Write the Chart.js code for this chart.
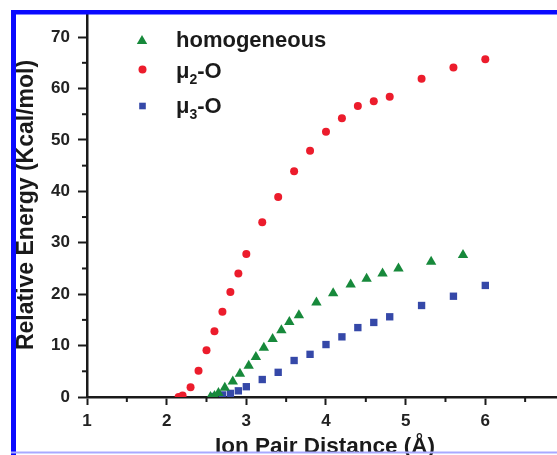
<!DOCTYPE html>
<html>
<head>
<meta charset="utf-8">
<script src="https://cdn.jsdelivr.net/npm/chart.js"></script>
<style>
  html, body { margin: 0; padding: 0; background: #fff; }
  canvas { display: block; }
</style>
</head>
<body>
<canvas id="energyChart" width="557" height="455"></canvas>
<script>
// data
const homoX = [2.55, 2.6, 2.65, 2.73, 2.83, 2.92, 3.03, 3.12, 3.22, 3.33, 3.44, 3.54, 3.66, 3.88, 4.09, 4.31, 4.51, 4.71, 4.91, 5.32, 5.72];
const homoY = [0, 0.2, 0.8, 1.8, 3.0, 4.5, 6.1, 7.8, 9.6, 11.3, 13.0, 14.6, 15.9, 18.4, 20.2, 21.9, 23.0, 24.0, 25.0, 26.3, 27.6];

const mu2X = [2.15, 2.2, 2.3, 2.4, 2.5, 2.6, 2.7, 2.8, 2.9, 3.0, 3.2, 3.4, 3.6, 3.8, 4.0, 4.2, 4.4, 4.6, 4.8, 5.2, 5.6, 6.0];
const mu2Y = [0, 0.3, 1.9, 5.1, 9.1, 12.8, 16.6, 20.4, 24.0, 27.8, 34.0, 38.9, 43.9, 47.9, 51.6, 54.2, 56.6, 57.5, 58.4, 61.9, 64.1, 65.7];

const mu3X = [2.6, 2.7, 2.8, 2.9, 3.0, 3.2, 3.4, 3.6, 3.8, 4.0, 4.2, 4.4, 4.6, 4.8, 5.2, 5.6, 6.0];
const mu3Y = [0.1, 0.4, 0.7, 1.2, 2.0, 3.4, 4.8, 7.1, 8.3, 10.2, 11.7, 13.5, 14.5, 15.6, 17.8, 19.6, 21.7];

const xTicks = [1, 2, 3, 4, 5, 6];
const yTicks = [0, 10, 20, 30, 40, 50, 60, 70];
const xMinor = [1.5, 2.5, 3.5, 4.5, 5.5, 6.5];
const yMinor = [5, 15, 25, 35, 45, 55, 65];

const GREEN = "#17893b";
const RED = "#ec1c2c";
const BLUE = "#3548a8";
const INK = "#1a1a1a";
const FONT = "'Liberation Sans', Arial, sans-serif";

function toPoints(xs, ys) {
  return xs.map((x, i) => ({ x: x, y: ys[i] }));
}

function keepTicks(list) {
  return function (scale) {
    scale.ticks = list.map(v => ({ value: v }));
  };
}

// shapes for the legend
function marker(ctx, style, x, y, r, color) {
  ctx.save();
  ctx.fillStyle = color;
  ctx.beginPath();
  if (style === "triangle") {
    ctx.moveTo(x, y - r);
    ctx.lineTo(x + r * 0.866, y + r / 2);
    ctx.lineTo(x - r * 0.866, y + r / 2);
    ctx.closePath();
  } else if (style === "circle") {
    ctx.arc(x, y, r, 0, Math.PI * 2);
  } else {
    ctx.rect(x - r, y - r, r * 2, r * 2);
  }
  ctx.fill();
  ctx.restore();
}

function subLabel(ctx, main, sub, rest, x, y) {
  ctx.font = "bold 22px " + FONT;
  ctx.fillText(main, x, y);
  x += ctx.measureText(main).width;
  ctx.font = "bold 14px " + FONT;
  ctx.fillText(sub, x, y + 6);
  x += ctx.measureText(sub).width;
  ctx.font = "bold 22px " + FONT;
  ctx.fillText(rest, x, y);
}

const decorations = {
  id: "decorations",
  afterDraw(chart) {
    const ctx = chart.ctx;
    const xs = chart.scales.x;
    const ys = chart.scales.y;
    const area = chart.chartArea;

    // minor ticks
    ctx.save();
    ctx.strokeStyle = INK;
    ctx.lineWidth = 2;
    xMinor.forEach(v => {
      const px = xs.getPixelForValue(v);
      ctx.beginPath();
      ctx.moveTo(px, area.bottom);
      ctx.lineTo(px, area.bottom + 5);
      ctx.stroke();
    });
    yMinor.forEach(v => {
      const py = ys.getPixelForValue(v);
      ctx.beginPath();
      ctx.moveTo(area.left, py);
      ctx.lineTo(area.left - 5, py);
      ctx.stroke();
    });
    ctx.restore();

    // axis titles
    ctx.save();
    ctx.fillStyle = INK;
    ctx.font = "bold 22.5px " + FONT;
    ctx.textAlign = "center";
    ctx.textBaseline = "alphabetic";
    ctx.fillText("Ion Pair Distance (Å)", 325, 453);
    ctx.translate(33, 205);
    ctx.rotate(-Math.PI / 2);
    ctx.font = "bold 23px " + FONT;
    ctx.fillText("Relative Energy (Kcal/mol)", 0, 0);
    ctx.restore();

    // legend
    ctx.save();
    marker(ctx, "triangle", 142, 41, 6, GREEN);
    marker(ctx, "circle", 142.5, 69.5, 4, RED);
    marker(ctx, "rect", 142.5, 106, 3.3, BLUE);
    ctx.fillStyle = INK;
    ctx.textAlign = "left";
    ctx.textBaseline = "alphabetic";
    ctx.font = "bold 22px " + FONT;
    ctx.fillText("homogeneous", 176, 46.5);
    subLabel(ctx, "μ", "2", "-O", 176, 77.5);
    subLabel(ctx, "μ", "3", "-O", 176, 113);
    ctx.restore();

    // blue frame
    ctx.save();
    ctx.fillStyle = "#0a0aff";
    ctx.fillRect(11, 10, 546, 4.5);
    ctx.fillRect(11, 10, 5, 445);
    ctx.fillStyle = "#a9a9ff";
    ctx.fillRect(11, 451.5, 546, 2);
    ctx.restore();
  }
};

const ctx = document.getElementById("energyChart").getContext("2d");
new Chart(ctx, {
  type: "scatter",
  data: {
    datasets: [
      {
        label: "homogeneous",
        data: toPoints(homoX, homoY),
        pointStyle: "triangle",
        pointRadius: 6,
        backgroundColor: GREEN,
        borderWidth: 0
      },
      {
        label: "μ2-O",
        data: toPoints(mu2X, mu2Y),
        pointStyle: "circle",
        pointRadius: 4,
        backgroundColor: RED,
        borderWidth: 0
      },
      {
        label: "μ3-O",
        data: toPoints(mu3X, mu3Y),
        pointStyle: "rect",
        pointRadius: 5.2,
        backgroundColor: BLUE,
        borderWidth: 0
      }
    ]
  },
  options: {
    responsive: false,
    animation: false,
    layout: { autoPadding: false, padding: { top: 15, right: 0, bottom: 0, left: 0 } },
    plugins: { legend: { display: false }, tooltip: { enabled: false } },
    scales: {
      x: {
        type: "linear",
        min: 1,
        max: 6.9,
        afterBuildTicks: keepTicks(xTicks),
        afterFit: s => { s.height = 58; s.paddingLeft = 0; s.paddingRight = 0; },
        border: { display: true, color: INK, width: 2.5 },
        grid: { drawOnChartArea: false, tickLength: 8, tickWidth: 2, tickColor: INK },
        ticks: {
          color: "#222",
          padding: 6,
          font: { family: FONT, weight: "bold", size: 17 }
        }
      },
      y: {
        type: "linear",
        min: 0,
        max: 74.3,
        afterBuildTicks: keepTicks(yTicks),
        afterFit: s => { s.width = 87; s.paddingTop = 0; s.paddingBottom = 0; },
        border: { display: true, color: INK, width: 2.5 },
        grid: { drawOnChartArea: false, tickLength: 9, tickWidth: 2, tickColor: INK },
        ticks: {
          color: "#222",
          padding: 8,
          font: { family: FONT, weight: "bold", size: 17 }
        }
      }
    }
  },
  plugins: [decorations]
});
</script>
</body>
</html>
